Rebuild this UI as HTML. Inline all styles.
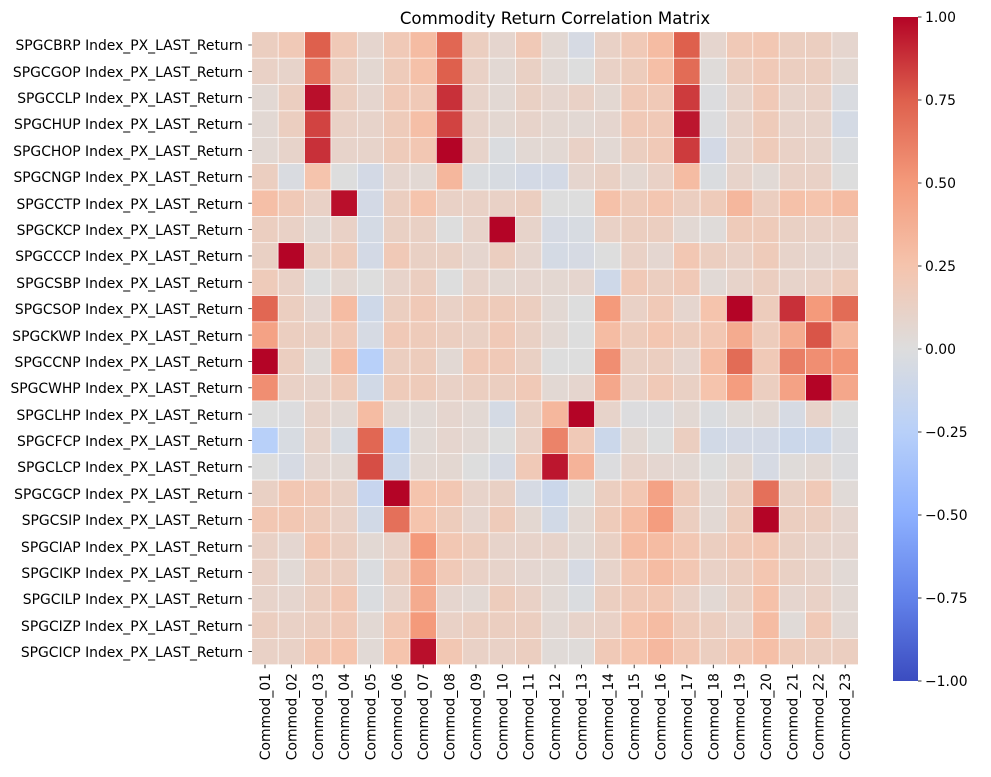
<!DOCTYPE html>
<html><head><meta charset="utf-8"><style>
body{margin:0;background:#fff;}
svg text{font-family:"DejaVu Sans","Liberation Sans",sans-serif;font-size:13.9px;fill:#000;}
</style></head><body>
<svg id="s" width="991" height="772" xmlns="http://www.w3.org/2000/svg">
<defs><linearGradient id="cb" x1="0" y1="1" x2="0" y2="0">
<stop offset="0" stop-color="rgb(59,76,192)"/><stop offset="0.125" stop-color="rgb(98,130,234)"/>
<stop offset="0.25" stop-color="rgb(141,176,254)"/><stop offset="0.375" stop-color="rgb(184,208,249)"/>
<stop offset="0.5" stop-color="rgb(221,221,221)"/><stop offset="0.625" stop-color="rgb(245,196,173)"/>
<stop offset="0.75" stop-color="rgb(244,154,123)"/><stop offset="0.875" stop-color="rgb(222,96,77)"/>
<stop offset="1" stop-color="rgb(180,4,38)"/></linearGradient></defs>
<text x="555" y="24" text-anchor="middle" style="font-size:16.6px">Commodity Return Correlation Matrix</text>
<g id="cells"></g>
<rect x="893" y="17" width="25" height="664" fill="url(#cb)"/>
<g text-anchor="end">
<text x="243" y="50">SPGCBRP Index_PX_LAST_Return</text>
<text x="243" y="77">SPGCGOP Index_PX_LAST_Return</text>
<text x="243" y="103">SPGCCLP Index_PX_LAST_Return</text>
<text x="243" y="129">SPGCHUP Index_PX_LAST_Return</text>
<text x="243" y="156">SPGCHOP Index_PX_LAST_Return</text>
<text x="243" y="182">SPGCNGP Index_PX_LAST_Return</text>
<text x="243" y="209">SPGCCTP Index_PX_LAST_Return</text>
<text x="243" y="235">SPGCKCP Index_PX_LAST_Return</text>
<text x="243" y="261">SPGCCCP Index_PX_LAST_Return</text>
<text x="243" y="288">SPGCSBP Index_PX_LAST_Return</text>
<text x="243" y="314">SPGCSOP Index_PX_LAST_Return</text>
<text x="243" y="341">SPGCKWP Index_PX_LAST_Return</text>
<text x="243" y="367">SPGCCNP Index_PX_LAST_Return</text>
<text x="243" y="393">SPGCWHP Index_PX_LAST_Return</text>
<text x="243" y="420">SPGCLHP Index_PX_LAST_Return</text>
<text x="243" y="446">SPGCFCP Index_PX_LAST_Return</text>
<text x="243" y="472">SPGCLCP Index_PX_LAST_Return</text>
<text x="243" y="499">SPGCGCP Index_PX_LAST_Return</text>
<text x="243" y="525">SPGCSIP Index_PX_LAST_Return</text>
<text x="243" y="552">SPGCIAP Index_PX_LAST_Return</text>
<text x="243" y="578">SPGCIKP Index_PX_LAST_Return</text>
<text x="243" y="604">SPGCILP Index_PX_LAST_Return</text>
<text x="243" y="631">SPGCIZP Index_PX_LAST_Return</text>
<text x="243" y="657">SPGCICP Index_PX_LAST_Return</text>
</g>
<g text-anchor="end">
<text transform="translate(270,673) rotate(-90)">Commod_01</text>
<text transform="translate(296.4,673) rotate(-90)">Commod_02</text>
<text transform="translate(322.8,673) rotate(-90)">Commod_03</text>
<text transform="translate(349.1,673) rotate(-90)">Commod_04</text>
<text transform="translate(375.5,673) rotate(-90)">Commod_05</text>
<text transform="translate(401.9,673) rotate(-90)">Commod_06</text>
<text transform="translate(428.2,673) rotate(-90)">Commod_07</text>
<text transform="translate(454.6,673) rotate(-90)">Commod_08</text>
<text transform="translate(481.0,673) rotate(-90)">Commod_09</text>
<text transform="translate(507.3,673) rotate(-90)">Commod_10</text>
<text transform="translate(533.7,673) rotate(-90)">Commod_11</text>
<text transform="translate(560.1,673) rotate(-90)">Commod_12</text>
<text transform="translate(586.4,673) rotate(-90)">Commod_13</text>
<text transform="translate(612.8,673) rotate(-90)">Commod_14</text>
<text transform="translate(639.2,673) rotate(-90)">Commod_15</text>
<text transform="translate(665.5,673) rotate(-90)">Commod_16</text>
<text transform="translate(691.9,673) rotate(-90)">Commod_17</text>
<text transform="translate(718.3,673) rotate(-90)">Commod_18</text>
<text transform="translate(744.6,673) rotate(-90)">Commod_19</text>
<text transform="translate(771.0,673) rotate(-90)">Commod_20</text>
<text transform="translate(797.4,673) rotate(-90)">Commod_21</text>
<text transform="translate(823.7,673) rotate(-90)">Commod_22</text>
<text transform="translate(850.1,673) rotate(-90)">Commod_23</text>
</g>
<g>
<text x="925" y="22">1.00</text>
<text x="925" y="105">0.75</text>
<text x="925" y="188">0.50</text>
<text x="925" y="271">0.25</text>
<text x="925" y="354">0.00</text>
<text x="925" y="437">−0.25</text>
<text x="925" y="520">−0.50</text>
<text x="925" y="603">−0.75</text>
<text x="925" y="686">−1.00</text>
</g>
<g id="ticks" stroke="#000" stroke-width="0.8"></g>
</svg>
<script>
var M=[
[0.15,0.2,0.75,0.2,0.08,0.2,0.3,0.72,0.15,0.08,0.2,0.05,-0.05,0.12,0.2,0.3,0.75,0.08,0.2,0.22,0.15,0.15,0.08],
[0.12,0.1,0.68,0.15,0.06,0.18,0.27,0.75,0.12,0.05,0.13,0.04,0.0,0.12,0.17,0.28,0.7,0.02,0.15,0.2,0.15,0.15,0.06],
[0.05,0.15,0.97,0.15,0.08,0.2,0.2,0.88,0.1,0.05,0.13,0.08,0.12,0.06,0.2,0.2,0.85,-0.01,0.1,0.2,0.1,0.12,-0.03],
[0.05,0.15,0.83,0.12,0.1,0.18,0.28,0.83,0.1,0.06,0.1,0.06,0.05,0.08,0.2,0.2,0.95,-0.01,0.1,0.18,0.1,0.1,-0.06],
[0.05,0.1,0.88,0.1,0.1,0.18,0.22,1.0,0.1,-0.02,0.05,0.05,0.12,0.05,0.15,0.2,0.85,-0.07,0.1,0.18,0.12,0.1,-0.02],
[0.15,-0.03,0.25,0.0,-0.07,0.08,0.05,0.33,-0.02,-0.04,-0.07,-0.07,0.08,0.13,0.06,0.12,0.3,-0.02,0.1,0.04,0.12,0.12,0.0],
[0.28,0.2,0.12,0.97,-0.07,0.15,0.25,0.12,0.12,0.12,0.15,0.0,0.0,0.27,0.18,0.23,0.15,0.18,0.33,0.15,0.27,0.25,0.3],
[0.15,0.12,0.05,0.12,-0.06,0.13,0.13,0.0,0.1,1.0,0.1,-0.05,-0.04,0.12,0.15,0.15,0.05,0.02,0.18,0.18,0.13,0.12,0.12],
[0.13,1.0,0.13,0.18,-0.07,0.2,0.13,0.13,0.08,0.15,0.08,-0.06,-0.05,0.0,0.12,0.07,0.22,0.15,0.12,0.18,0.1,0.08,0.08],
[0.18,0.12,0.0,0.06,0.0,0.1,0.15,0.0,0.1,0.06,0.08,0.06,0.08,-0.1,0.2,0.15,0.2,0.04,0.1,0.15,0.1,0.12,0.17],
[0.72,0.15,0.07,0.3,-0.1,0.15,0.2,0.12,0.17,0.18,0.15,0.05,0.0,0.5,0.12,0.2,0.08,0.25,1.0,0.17,0.88,0.5,0.7],
[0.45,0.15,0.13,0.2,-0.05,0.2,0.18,0.15,0.13,0.2,0.13,0.05,0.0,0.3,0.17,0.23,0.17,0.22,0.4,0.17,0.4,0.78,0.33],
[1.0,0.15,0.03,0.3,-0.25,0.15,0.17,0.05,0.2,0.2,0.13,0.0,0.0,0.55,0.13,0.15,0.08,0.3,0.7,0.2,0.62,0.55,0.52],
[0.55,0.12,0.1,0.18,-0.08,0.18,0.18,0.12,0.15,0.15,0.2,0.05,0.08,0.42,0.12,0.2,0.13,0.25,0.48,0.15,0.45,1.0,0.42],
[0.0,-0.01,0.1,0.05,0.3,0.05,0.04,0.08,0.05,-0.06,0.13,0.33,1.0,0.1,-0.01,-0.01,0.05,-0.02,0.03,0.05,-0.05,0.1,0.0],
[-0.25,-0.04,0.1,-0.04,0.72,-0.2,0.04,0.08,0.05,0.0,0.12,0.6,0.2,-0.12,0.05,0.0,0.15,-0.08,-0.07,-0.07,-0.12,-0.12,-0.03],
[0.0,-0.05,0.07,0.05,0.8,-0.12,0.05,0.06,0.0,-0.05,0.2,0.95,0.35,-0.01,0.1,0.07,0.05,0.0,0.05,-0.05,0.02,0.05,-0.01],
[0.13,0.22,0.2,0.13,-0.15,1.0,0.25,0.22,0.1,0.13,-0.05,-0.12,0.0,0.15,0.22,0.45,0.18,0.05,0.15,0.68,0.13,0.2,0.03],
[0.22,0.22,0.18,0.12,-0.08,0.68,0.25,0.17,0.08,0.18,0.06,-0.08,0.05,0.18,0.3,0.48,0.15,0.05,0.17,1.0,0.15,0.15,0.08],
[0.12,0.07,0.22,0.15,0.05,0.12,0.5,0.22,0.17,0.1,0.1,0.1,0.05,0.13,0.3,0.3,0.22,0.15,0.2,0.23,0.13,0.1,0.08],
[0.12,0.04,0.15,0.15,-0.02,0.15,0.4,0.2,0.12,0.1,0.07,0.05,-0.05,0.1,0.22,0.3,0.22,0.12,0.15,0.23,0.13,0.1,0.04],
[0.1,0.08,0.15,0.22,-0.02,0.1,0.4,0.08,0.05,0.17,0.12,0.04,-0.02,0.15,0.2,0.22,0.12,0.05,0.13,0.27,0.08,0.12,0.05],
[0.15,0.12,0.15,0.2,0.05,0.22,0.5,0.12,0.15,0.15,0.15,0.05,0.1,0.12,0.25,0.3,0.18,0.15,0.1,0.3,0.03,0.2,0.05],
[0.12,0.12,0.22,0.25,0.04,0.25,0.97,0.22,0.12,0.12,0.15,0.03,0.02,0.2,0.25,0.32,0.22,0.15,0.22,0.28,0.18,0.15,0.15]];
var S=[[59,76,192],[98,130,234],[141,176,254],[184,208,249],[221,221,221],[245,196,173],[244,154,123],[222,96,77],[180,4,38]];
function col(v){var t=(v+1)/2*8;if(t<0)t=0;if(t>8)t=8;var i=Math.min(7,Math.floor(t)),f=t-i,a=S[i],b=S[i+1];
return 'rgb('+[0,1,2].map(function(k){return Math.round(a[k]+(b[k]-a[k])*f)}).join(',')+')';}
var ns='http://www.w3.org/2000/svg',g=document.getElementById('cells'),tk=document.getElementById('ticks');
var x0=251.8,y0=31.8,w=26.37,h=26.37;
for(var r=0;r<24;r++)for(var c=0;c<23;c++){var e=document.createElementNS(ns,'rect');
e.setAttribute('x',x0+c*w);e.setAttribute('y',y0+r*h);e.setAttribute('width',w);e.setAttribute('height',h);
e.setAttribute('fill',col(M[r][c]));e.setAttribute('stroke','#fff');e.setAttribute('stroke-width','0.6');g.appendChild(e);}
function ln(a,b,c,d){var e=document.createElementNS(ns,'line');e.setAttribute('x1',a);e.setAttribute('y1',b);e.setAttribute('x2',c);e.setAttribute('y2',d);tk.appendChild(e);}
for(var r=0;r<24;r++){var y=y0+(r+0.5)*h;ln(248.3,y,251.8,y);}
for(var c=0;c<23;c++){var x=x0+(c+0.5)*w;ln(x,664.7,x,668.2);}
for(var i=0;i<9;i++){var y=17+i*83;ln(918,y,921.5,y);}
</script>
</body></html>
